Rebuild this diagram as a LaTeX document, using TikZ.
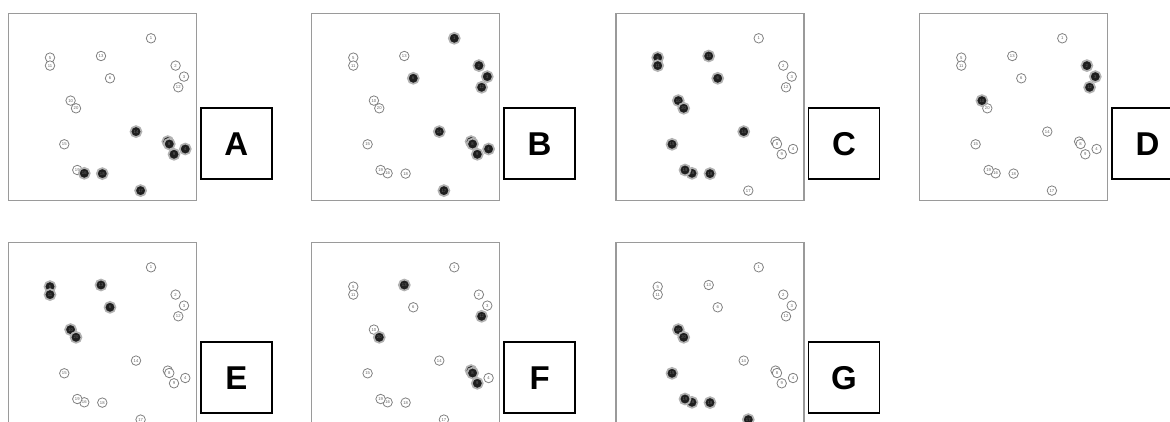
\documentclass[tikz,border=0pt]{standalone}
\usepackage{fontspec}
\setmainfont{Liberation Sans}
\usepackage{tikz}
\usetikzlibrary{positioning}
\definecolor{frameg}{HTML}{9a9a9a}
\definecolor{ringg}{HTML}{808080}
\tikzset{
  panelframe/.style={draw=frameg, line width=1.5pt},
  ptlight/.style={circle, draw=ringg, line width=0.8pt, fill=white, minimum size=9.5pt,
                  inner sep=0pt, text=black!60, font=\fontsize{4.2}{4.2}\selectfont},
  ptdark/.style={circle, draw=black!30, line width=1.7pt, fill=black!88, minimum size=11pt,
                 inner sep=0pt, text=black!60, font=\fontsize{4.2}{4.2}\selectfont},
  tag/.style={draw=black, line width=1.8pt, minimum width=71pt, minimum height=71pt,
              inner sep=0pt, font=\fontsize{33}{33}\selectfont\bfseries}
}
% label / x / y of every point, inside one panel (y measured downward)
\newcommand{\ptlist}{1/142.7/25, 2/167.3/52.3, 3/175.7/63.3, 4/177/135.7, 5/41.7/44.3,
  6/101.7/65, 7/159.5/128.3, 8/161/130.7, 9/165.7/141, 10/62.3/87.3, 11/41.7/52.3,
  12/170/74, 13/92.7/42.7, 14/127.7/118.3, 15/56/131, 16/76/160, 17/132.3/177.3,
  18/94/160.3, 19/69/156.7, 20/67.7/95}
% #1 name, #2 left, #3 top, #4 dark points, #5 tag centre below top
\newcommand{\statepanel}[5]{%
  \begin{scope}[shift={(#2,-#3)}]
    \draw[panelframe] (0,0) rectangle (188,-187);
    \foreach \n/\x/\y in \ptlist
      \node[ptlight] (#1-\n) at (\x,-\y) {\n};
    \foreach \n in {#4}
      \node[ptdark] (#1-\n-on) at (#1-\n) {\n};
    \node[tag] (#1-tag) at (228,-#5) {#1};
  \end{scope}}

\begin{document}
\begin{tikzpicture}[x=1pt, y=1pt]
  \useasboundingbox (0,0) rectangle (1170,-421);
  \clip (0,0) rectangle (1170,-421);
  % top row
  \statepanel{A}{8.3}{13.3}{4,7,8,9,14,16,17,18}{130.5}
  \statepanel{B}{311.6}{13.3}{1,2,3,4,6,7,8,9,12,14,17}{130.5}
  \statepanel{C}{616}{13.3}{5,6,10,11,13,14,15,16,18,19,20}{130.5}
  \statepanel{D}{919.6}{13.3}{2,3,10,12}{130.5}
  % bottom row
  \statepanel{E}{8.3}{242.3}{5,6,10,11,13,20}{135.5}
  \statepanel{F}{311.6}{242.3}{7,8,9,12,13,20}{135.5}
  \statepanel{G}{616}{242.3}{10,15,16,17,18,19,20}{135.5}
\end{tikzpicture}
\end{document}
